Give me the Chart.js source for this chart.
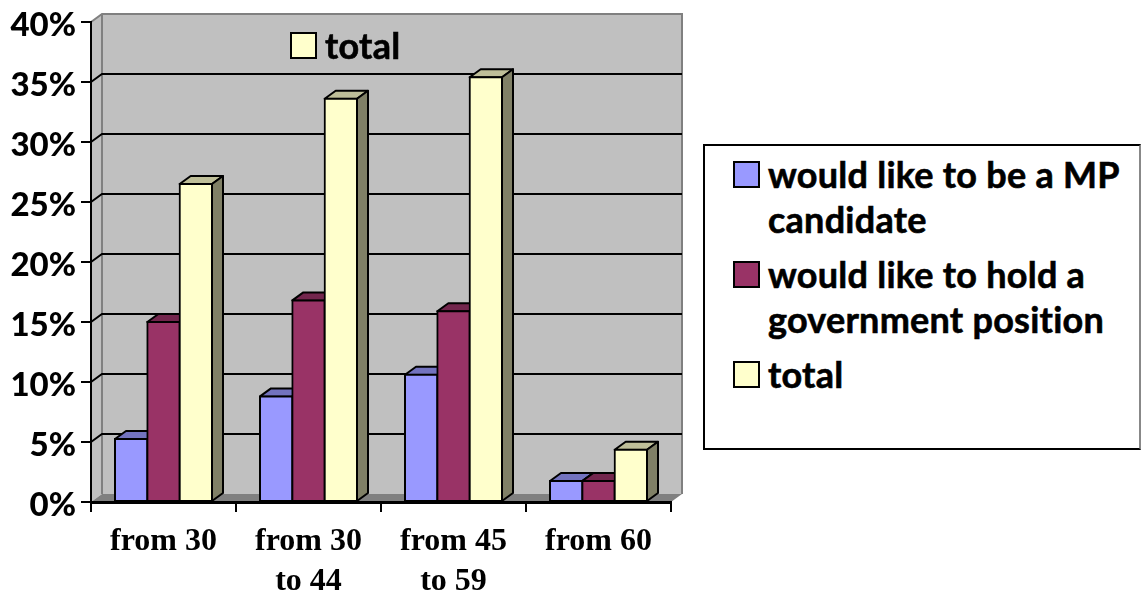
<!DOCTYPE html>
<html>
<head>
<meta charset="utf-8">
<title>Would like to be a MP candidate or hold a government position, by age</title>
<script src="https://cdn.jsdelivr.net/npm/chart.js@4"></script>
<style>
  html, body { margin: 0; padding: 0; background: #fff; overflow: hidden; }
  #wrap { position: relative; width: 1141px; height: 593px; }
  canvas { position: absolute; left: 0; top: 0; }
  .legend { position: absolute; font: 700 36px Lato, sans-serif; letter-spacing: 0.25px; color: #000; box-sizing: border-box; -webkit-text-stroke: 0.6px #000; }
  #legendMain { left: 703px; top: 144px; width: 438px; height: 306px; background: #fff; border: 2px solid #000; border-right-color: #888; }
  #legendStray { left: 290px; top: 23px; }
  .entry { position: absolute; left: 28px; line-height: 45px; }
  .swatch { position: absolute; width: 23px; height: 23px; border: 2px solid #000; box-sizing: content-box; }
  .entry span { position: absolute; left: 35px; top: 0; white-space: nowrap; }
</style>
</head>
<body>
<div id="wrap">
  <canvas id="chart" width="1141" height="593"></canvas>
  <div id="legendMain" class="legend"></div>
  <div id="legendStray" class="legend"></div>
</div>
<script>
const CATEGORIES = [['from 30'], ['from 30', 'to 44'], ['from 45', 'to 59'], ['from 60']];
const SERIES_NAMES = ['would like to be a MP candidate', 'would like to hold a government position', 'total'];
const LEGEND_LINES = [['would like to be a MP', 'candidate'], ['would like to hold a', 'government position'], ['total']];
const MP_CANDIDATE = [5.25, 8.8, 10.6, 1.75];
const GOV_POSITION = [15.0, 16.8, 15.9, 1.75];
const TOTAL = [26.5, 33.6, 35.4, 4.35];
const Y_TICKS = [0, 5, 10, 15, 20, 25, 30, 35, 40];

const COLORS = ['#9999FF', '#993366', '#FFFFCC'];
const TOP_COLORS = ['#7373BF', '#73264D', '#BFBF99'];
const SIDE_COLORS = ['#4D4D80', '#4D1A33', '#808066'];
const WALL = '#C0C0C0';
const FLOOR = '#808080';

// how far the back wall is pushed away from the front axes
const DEPTH_X = 11;
const DEPTH_Y = 8;

function poly(ctx, pts, fill, stroke, width) {
  ctx.beginPath();
  pts.forEach(([x, y], i) => (i ? ctx.lineTo(x, y) : ctx.moveTo(x, y)));
  ctx.closePath();
  ctx.fillStyle = fill;
  ctx.fill();
  if (stroke) {
    ctx.strokeStyle = stroke;
    ctx.lineWidth = width;
    ctx.lineJoin = 'round';
    ctx.stroke();
  }
}

const walls3d = {
  id: 'walls3d',
  beforeDraw(chart) {
    const { ctx, chartArea: a, scales } = chart;
    const yScale = scales.y;
    ctx.save();
    // side wall, back wall, floor
    poly(ctx, [[a.left, a.top], [a.left + DEPTH_X, a.top - DEPTH_Y], [a.left + DEPTH_X, a.bottom - DEPTH_Y], [a.left, a.bottom]], WALL);
    poly(ctx, [[a.left + DEPTH_X, a.top - DEPTH_Y], [a.right + DEPTH_X, a.top - DEPTH_Y], [a.right + DEPTH_X, a.bottom - DEPTH_Y], [a.left + DEPTH_X, a.bottom - DEPTH_Y]], WALL);
    poly(ctx, [[a.left, a.bottom], [a.left + DEPTH_X, a.bottom - DEPTH_Y], [a.right + DEPTH_X, a.bottom - DEPTH_Y], [a.right, a.bottom]], FLOOR);

    // gray wall edges
    ctx.strokeStyle = '#808080';
    ctx.lineWidth = 2;
    ctx.beginPath();
    ctx.moveTo(a.left, a.top);
    ctx.lineTo(a.left + DEPTH_X, a.top - DEPTH_Y);
    ctx.lineTo(a.right + DEPTH_X, a.top - DEPTH_Y);
    ctx.lineTo(a.right + DEPTH_X, a.bottom - DEPTH_Y);
    ctx.moveTo(a.left + DEPTH_X, a.top - DEPTH_Y);
    ctx.lineTo(a.left + DEPTH_X, a.bottom - DEPTH_Y);
    ctx.stroke();

    // grid lines sit on the walls, not at the front
    ctx.strokeStyle = '#000';
    ctx.beginPath();
    Y_TICKS.slice(1, -1).forEach((v) => {
      const y = yScale.getPixelForValue(v);
      ctx.moveTo(a.left, y);
      ctx.lineTo(a.left + DEPTH_X, y - DEPTH_Y);
      ctx.lineTo(a.right + DEPTH_X, y - DEPTH_Y);
    });
    ctx.stroke();
    ctx.restore();
  },
  // bars go left to right so the next bar covers the side of the previous one
  beforeDatasetsDraw(chart) {
    const { ctx, chartArea } = chart;
    ctx.save();
    for (let d = 0; d < chart.data.datasets.length; d++) {
      chart.getDatasetMeta(d).data.forEach((bar) => {
        const half = bar.width / 2;
        const l = bar.x - half;
        const r = bar.x + half;
        const t = bar.y;
        const b = bar.base;
        poly(ctx, [[l, t], [l + DEPTH_X, t - DEPTH_Y], [r + DEPTH_X, t - DEPTH_Y], [r, t]], TOP_COLORS[d], '#000', 2);
        poly(ctx, [[r, t], [r + DEPTH_X, t - DEPTH_Y], [r + DEPTH_X, b - DEPTH_Y], [r, b]], SIDE_COLORS[d], '#000', 2);
        bar.draw(ctx, chartArea);
      });
    }
    ctx.restore();
    return false;
  },
};

function renderChart() {
  const ctx = document.getElementById('chart').getContext('2d');
  const seriesValues = [MP_CANDIDATE, GOV_POSITION, TOTAL];
  new Chart(ctx, {
    type: 'bar',
    data: {
      labels: CATEGORIES,
      datasets: seriesValues.map((values, i) => ({
        label: SERIES_NAMES[i],
        data: values,
        backgroundColor: COLORS[i],
        borderColor: '#000',
        borderWidth: 2,
        borderSkipped: false,
        inflateAmount: 1,
        categoryPercentage: 0.669,
        barPercentage: 1,
      })),
    },
    options: {
      responsive: false,
      animation: false,
      devicePixelRatio: 1,
      layout: { padding: { left: 0, top: 22, right: 470, bottom: 0 } },
      plugins: { legend: { display: false }, tooltip: { enabled: false }, title: { display: false } },
      scales: {
        x: {
          grid: { drawOnChartArea: false, drawTicks: true, tickLength: 10, color: '#000', lineWidth: 2 },
          border: { color: '#000', width: 3 },
          ticks: {
            color: '#000',
            padding: 10,
            maxRotation: 0,
            autoSkip: false,
            font: { family: '"Liberation Serif"', size: 32, weight: 'bold', lineHeight: 1.25 },
          },
          afterFit(scale) {
            scale.height = 91;
            scale.paddingLeft = 0;
            scale.paddingRight = 0;
          },
        },
        y: {
          min: 0,
          max: 40,
          afterBuildTicks(scale) {
            scale.ticks = Y_TICKS.map((value) => ({ value }));
          },
          grid: { drawOnChartArea: false, drawTicks: true, tickLength: 10, color: '#000', lineWidth: 2 },
          border: { color: '#000', width: 2 },
          ticks: {
            color: '#000',
            padding: 5,
            labelOffset: 3,
            font: { family: 'Lato', size: 33, weight: '900' },
            callback: (v) => `${v}%`,
          },
          afterFit(scale) {
            scale.width = 91;
            scale.paddingTop = 0;
            scale.paddingBottom = 0;
          },
        },
      },
    },
    plugins: [walls3d],
  });
}

function addEntry(box, index, left, top) {
  const lines = LEGEND_LINES[index];
  const entry = document.createElement('div');
  entry.className = 'entry';
  entry.style.left = `${left}px`;
  entry.style.top = `${top}px`;
  const swatch = document.createElement('div');
  swatch.className = 'swatch';
  swatch.style.background = COLORS[index];
  swatch.style.top = '9px';
  entry.appendChild(swatch);
  lines.forEach((line, i) => {
    const text = document.createElement('span');
    text.textContent = line;
    text.style.top = `${i * 45}px`;
    entry.appendChild(text);
  });
  box.appendChild(entry);
}

function renderLegends() {
  const main = document.getElementById('legendMain');
  addEntry(main, 0, 28, 6);
  addEntry(main, 1, 28, 106);
  addEntry(main, 2, 28, 206);
  addEntry(document.getElementById('legendStray'), 2, 0, 0);
}

document.addEventListener('DOMContentLoaded', () => {
  renderChart();
  renderLegends();
});
</script>
</body>
</html>
